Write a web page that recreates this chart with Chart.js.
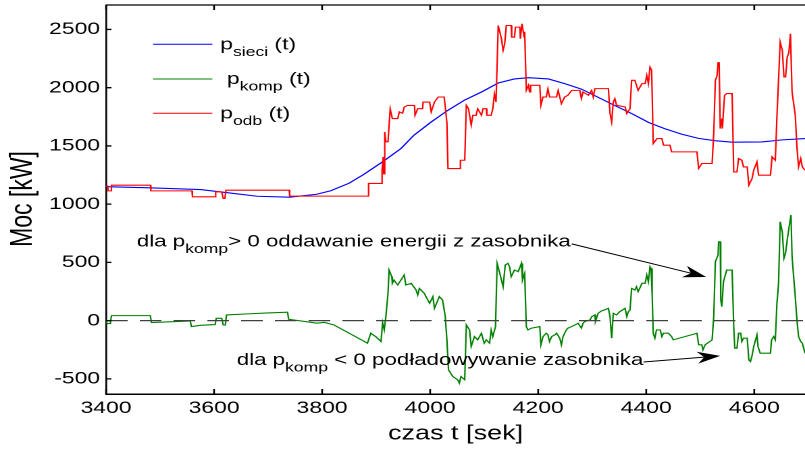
<!DOCTYPE html>
<html>
<head>
<meta charset="utf-8">
<script src="https://cdn.jsdelivr.net/npm/chart.js@4.4.1/dist/chart.umd.min.js"></script>
<style>
  html, body { margin: 0; padding: 0; background: #fff; overflow: hidden; }
  /* the reference figure is stretched sideways, so the whole chart is too */
  #wrap { position: absolute; left: 0; top: 0; width: 596px; height: 450px;
          transform: scaleX(1.3507); transform-origin: 0 0; }
</style>
</head>
<body>
<div id="wrap"><canvas id="c" width="596" height="450"></canvas></div>
<script>
'use strict';

/* ─── Data ─── */
const xTicks = [3400, 3600, 3800, 4000, 4200, 4400, 4600];
const yTicks = [-500, 0, 500, 1000, 1500, 2000, 2500];

// p_sieci(t) — smooth grid power
const sieciT = [3400, 3480, 3575, 3640, 3680, 3740, 3790, 3816, 3850, 3877, 3914, 3946, 3970, 4002,
                4033, 4063, 4095, 4126, 4156, 4182, 4219, 4249, 4280, 4341, 4373, 4405, 4434, 4466,
                4497, 4527, 4559, 4614, 4652, 4694];
const sieciP = [1150, 1140, 1125, 1090, 1068, 1060, 1085, 1115, 1180, 1255, 1370, 1478, 1592, 1706,
                1806, 1892, 1963, 2040, 2075, 2086, 2075, 2035, 1988, 1849, 1778, 1700, 1649, 1600,
                1565, 1545, 1532, 1534, 1552, 1563];

// p_komp(t) — storage power
const kompT = [3400, 3402, 3408, 3410, 3482, 3484, 3530, 3556, 3558, 3575, 3602, 3604, 3614, 3617,
               3621, 3623, 3662, 3700, 3736, 3738, 3791, 3804, 3822, 3884, 3890, 3900, 3909, 3912,
               3915, 3918, 3922, 3924, 3929, 3930, 3933, 3940, 3946, 3952, 3955, 3965, 3974, 3977,
               3980, 3989, 3999, 4005, 4008, 4017, 4023, 4028, 4031, 4034, 4042, 4051, 4054, 4057,
               4064, 4067, 4073, 4076, 4082, 4088, 4095, 4100, 4104, 4110, 4113, 4116, 4121, 4124,
               4129, 4135, 4139, 4144, 4147, 4150, 4156, 4163, 4169, 4171, 4175, 4178, 4181, 4187,
               4203, 4205, 4209, 4215, 4218, 4221, 4225, 4231, 4234, 4240, 4243, 4246, 4252, 4255,
               4262, 4268, 4274, 4280, 4283, 4286, 4296, 4299, 4305, 4306, 4311, 4317, 4323, 4330,
               4333, 4336, 4339, 4345, 4351, 4361, 4364, 4367, 4370, 4373, 4379, 4382, 4385, 4388,
               4392, 4398, 4401, 4404, 4407, 4409, 4411, 4413, 4416, 4419, 4426, 4429, 4432, 4441,
               4444, 4447, 4450, 4494, 4497, 4503, 4505, 4509, 4522, 4525, 4528, 4533, 4534, 4537,
               4538, 4540, 4543, 4549, 4559, 4562, 4564, 4568, 4571, 4575, 4577, 4580, 4587, 4590,
               4593, 4596, 4599, 4605, 4607, 4611, 4630, 4632, 4636, 4639, 4642, 4645, 4648, 4652,
               4655, 4658, 4661, 4665, 4668, 4670, 4676, 4679, 4682, 4686, 4689, 4694];
const kompP = [6, -25, -25, 43, 43, -17, -8, -3, -51, -40, -34, 20, 20, -37,
               -37, 49, 58, 66, 72, 12, -22, -15, -37, -194, -108, -140, -180, -18,
               -80, 34, 235, 434, 377, 320, 349, 306, 349, 392, 306, 320, 263, 220,
               277, 235, 149, 206, 106, 206, 177, 34, -165, -423, -480, -508, -537, -480,
               -508, -37, -80, -223, -137, -165, -108, -194, -165, -194, -80, -137, -51, 492,
               406, 291, 477, 492, 463, 377, 434, 420, 492, 349, 406, -51, -80, -65,
               -51, -208, -137, -108, -122, -180, -137, -122, -108, -151, -208, -137, -80, -65,
               -51, -37, -23, -65, -23, -8, 6, 34, 49, -8, 63, 83, 92, 106,
               34, -151, 63, 49, 77, 106, 34, 77, 92, 277, 263, 291, 249, 277,
               320, 320, 392, 334, 463, 449, 220, -110, -151, -80, -80, -137, -108, -108,
               -122, -137, -165, -108, -208, -208, -251, -208, -165, 34, 506, 563, 677, 677,
               177, 120, 334, 434, 434, -51, -237, -237, -108, -108, -180, -151, -151, -337,
               -351, -300, -223, -123, -223, -280, -280, -165, -137, -165, 149, 320, 849, 760,
               535, 580, 692, 820, 906, 549, 200, 6, -137, -180, -194, -280];

// p_odb(t) — load power
const odbT = [3400, 3403, 3404, 3409, 3410, 3482, 3483, 3559, 3560, 3602, 3603, 3614, 3617, 3620,
              3622, 3739, 3740, 3884, 3886, 3909, 3911, 3913, 3914, 3916, 3918, 3922, 3926, 3930,
              3940, 3943, 3949, 3952, 3958, 3971, 3972, 3977, 3986, 3987, 3999, 4002, 4008, 4015,
              4026, 4031, 4033, 4054, 4056, 4064, 4067, 4071, 4076, 4079, 4085, 4088, 4095, 4098,
              4104, 4105, 4113, 4116, 4119, 4122, 4126, 4132, 4135, 4138, 4141, 4150, 4151, 4156,
              4158, 4166, 4167, 4170, 4174, 4175, 4178, 4182, 4184, 4186, 4203, 4205, 4209, 4215,
              4218, 4221, 4234, 4237, 4243, 4249, 4255, 4262, 4277, 4280, 4283, 4293, 4299, 4302,
              4305, 4330, 4333, 4336, 4339, 4342, 4345, 4361, 4364, 4370, 4373, 4379, 4385, 4392,
              4398, 4401, 4404, 4407, 4410, 4413, 4420, 4429, 4432, 4444, 4447, 4494, 4497, 4503,
              4522, 4525, 4528, 4531, 4533, 4535, 4537, 4540, 4541, 4545, 4549, 4559, 4562, 4568,
              4571, 4577, 4580, 4587, 4590, 4596, 4599, 4605, 4608, 4630, 4633, 4639, 4642, 4648,
              4652, 4655, 4658, 4661, 4664, 4667, 4670, 4676, 4679, 4682, 4686, 4689, 4694];
const odbP = [1155, 1155, 1114, 1114, 1163, 1163, 1114, 1114, 1063, 1063, 1106, 1106, 1049, 1049,
              1120, 1120, 1069, 1069, 1178, 1178, 1292, 1405, 1260, 1620, 1535, 1535, 1820, 1735,
              1735, 1792, 1780, 1834, 1848, 1848, 1763, 1820, 1820, 1877, 1877, 1792, 1877, 1920,
              1920, 1700, 1306, 1306, 1377, 1377, 1849, 1820, 1677, 1763, 1763, 1820, 1763, 1820,
              1820, 1763, 1763, 1820, 1949, 1877, 2534, 2420, 2320, 2377, 2534, 2534, 2434, 2434,
              2520, 2520, 2420, 2549, 2434, 2480, 1977, 2020, 1963, 2020, 2020, 1849, 1920, 1920,
              1990, 1920, 1920, 1977, 1863, 1920, 1935, 1977, 1977, 1906, 1963, 1935, 1977, 1920,
              1992, 1992, 1778, 1706, 1877, 1906, 1849, 1835, 1778, 1820, 2063, 2063, 1977, 2035,
              2035, 2106, 2035, 2177, 2150, 1520, 1563, 1563, 1506, 1506, 1449, 1449, 1306, 1349,
              1349, 1606, 2063, 2100, 2215, 2215, 1649, 1735, 1649, 1934, 1950, 1950, 1277, 1277,
              1392, 1377, 1320, 1320, 1163, 1220, 1292, 1363, 1249, 1249, 1406, 1377, 1749, 2392,
              2320, 2092, 2092, 2263, 2300, 2463, 1963, 1763, 1492, 1320, 1392, 1320, 1292];

const X_MIN = 3400, X_MAX = 4694;
const Y_MIN = -630, Y_MAX = 2710;

const FONT = "'Liberation Sans', Arial, Helvetica, sans-serif";
const BLUE = '#0000ff', GREEN = '#008000', RED = '#ff0000';

/* ─── Helpers ─── */
const pts = (ts, ps) => ts.map((t, i) => ({ x: t, y: ps[i] }));

// draws "p" + subscript + rest, starting at x with baseline y
function subText(ctx, x, y, main, sub, rest, size, subSize) {
  ctx.font = size + 'px ' + FONT;
  ctx.fillText(main, x, y);
  x += ctx.measureText(main).width;
  ctx.font = subSize + 'px ' + FONT;
  ctx.fillText(sub, x, y + 6.5);
  x += ctx.measureText(sub).width;
  ctx.font = size + 'px ' + FONT;
  ctx.fillText(rest, x, y);
}

function arrow(ctx, x1, y1, x2, y2) {
  const dx = x2 - x1, dy = y2 - y1, len = Math.hypot(dx, dy);
  const ux = dx / len, uy = dy / len, nx = -uy, ny = ux;
  const L = 17, W = 6;
  ctx.beginPath();
  ctx.moveTo(x1, y1);
  ctx.lineTo(x2 - ux * L * 0.7, y2 - uy * L * 0.7);
  ctx.stroke();
  ctx.beginPath();
  ctx.moveTo(x2, y2);
  ctx.lineTo(x2 - ux * L + nx * W, y2 - uy * L + ny * W);
  ctx.lineTo(x2 - ux * L * 0.7, y2 - uy * L * 0.7);
  ctx.lineTo(x2 - ux * L - nx * W, y2 - uy * L - ny * W);
  ctx.closePath();
  ctx.fill();
}

/* ─── Box, inward ticks, legend, notes, axis titles ─── */
const decor = {
  id: 'decor',
  afterDatasetsDraw(chart) {
    const { ctx, chartArea: a, scales: { x, y } } = chart;
    ctx.save();
    ctx.strokeStyle = '#000';
    ctx.lineWidth = 1.3;
    ctx.beginPath();
    ctx.moveTo(a.left, a.top); ctx.lineTo(a.right, a.top);
    xTicks.forEach(v => {
      const px = x.getPixelForValue(v);
      ctx.moveTo(px, a.bottom); ctx.lineTo(px, a.bottom - 5);
      ctx.moveTo(px, a.top); ctx.lineTo(px, a.top + 5);
    });
    yTicks.forEach(v => {
      const py = y.getPixelForValue(v);
      ctx.moveTo(a.left, py); ctx.lineTo(a.left + 4, py);
    });
    ctx.stroke();
    ctx.restore();
  },
  afterDraw(chart) {
    const { ctx, chartArea: a, scales: { x, y } } = chart;
    ctx.save();
    ctx.fillStyle = '#000';
    ctx.textBaseline = 'alphabetic';
    ctx.textAlign = 'left';

    // legend
    const rows = [
      { y: 44.3, c: BLUE,  tx: 163, sub: 'sieci' },
      { y: 79,   c: GREEN, tx: 168, sub: 'komp' },
      { y: 113.3, c: RED,  tx: 163, sub: 'odb' }
    ];
    rows.forEach(r => {
      ctx.strokeStyle = r.c;
      ctx.lineWidth = 1;
      ctx.beginPath();
      ctx.moveTo(113.3, r.y); ctx.lineTo(157.2, r.y);
      ctx.stroke();
      subText(ctx, r.tx, r.y + 5, 'p', r.sub, ' (t)', 17, 13);
    });

    // annotations
    subText(ctx, x.getPixelForValue(3457), y.getPixelForValue(636),
            'dla p', 'komp', '> 0 oddawanie energii z zasobnika', 16.5, 13);
    subText(ctx, x.getPixelForValue(3642), y.getPixelForValue(-380),
            'dla p', 'komp', ' < 0 podładowywanie zasobnika', 16.5, 13);
    ctx.strokeStyle = '#000';
    ctx.lineWidth = 1;
    arrow(ctx, x.getPixelForValue(4262), y.getPixelForValue(659),
               x.getPixelForValue(4511), y.getPixelForValue(375));
    arrow(ctx, x.getPixelForValue(4395), y.getPixelForValue(-355),
               x.getPixelForValue(4537), y.getPixelForValue(-303));

    // axis titles
    ctx.textAlign = 'center';
    ctx.textBaseline = 'middle';
    ctx.font = '20px ' + FONT;
    ctx.fillText('czas t [sek]', (a.left + a.right) / 2, 434);
    ctx.translate(17, 199);
    ctx.rotate(-Math.PI / 2);
    ctx.font = '23px ' + FONT;
    ctx.fillText('Moc [kW]', 0, 0);
    ctx.restore();
  }
};

/* ─── Chart ─── */
const line = (data, color, extra) => Object.assign({
  data, borderColor: color, borderWidth: 1.1, pointRadius: 0, tension: 0, fill: false
}, extra || {});

new Chart(document.getElementById('c'), {
  type: 'line',
  data: {
    datasets: [
      line(pts([X_MIN, X_MAX], [0, 0]), '#404040', { borderDash: [16, 9], borderWidth: 1.2 }),
      line(pts(kompT, kompP), GREEN),
      line(pts(odbT, odbP), RED),
      line(pts(sieciT, sieciP), BLUE)
    ]
  },
  options: {
    responsive: false,
    devicePixelRatio: 2,
    animation: false,
    layout: { padding: { top: 5, right: 0, left: 0, bottom: 0 } },
    plugins: { legend: { display: false }, tooltip: { enabled: false } },
    scales: {
      x: {
        type: 'linear', min: X_MIN, max: X_MAX,
        grid: { display: false, drawTicks: false },
        border: { display: true, color: '#000', width: 1.5 },
        ticks: { color: '#000', padding: 4, font: { family: FONT, size: 17 },
                 callback: v => String(v) },
        afterBuildTicks: s => { s.ticks = xTicks.map(v => ({ value: v })); },
        afterFit: s => { s.height = 56; s.paddingLeft = 0; s.paddingRight = 0; }
      },
      y: {
        type: 'linear', min: Y_MIN, max: Y_MAX,
        grid: { display: false, drawTicks: false },
        border: { display: true, color: '#000', width: 1.3 },
        ticks: { color: '#000', padding: 4.4, font: { family: FONT, size: 17 },
                 callback: v => String(v) },
        afterBuildTicks: s => { s.ticks = yTicks.map(v => ({ value: v })); },
        afterFit: s => { s.width = 78.5; s.paddingTop = 0; s.paddingBottom = 0; }
      }
    }
  },
  plugins: [decor]
});
</script>
</body>
</html>
